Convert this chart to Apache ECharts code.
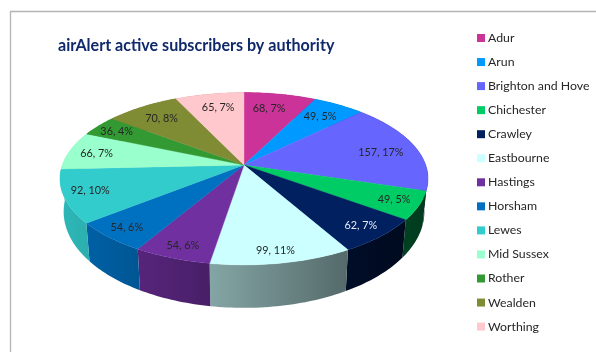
<!DOCTYPE html>
<html>
<head>
<meta charset="utf-8">
<style>html,body{margin:0;padding:0;background:#fff}#chart{width:596px;height:352px}</style>
<script src="https://cdn.jsdelivr.net/npm/echarts@6/dist/echarts.min.js"></script>
</head>
<body>
<div id="chart"></div>
<script>
const chartTitle = 'airAlert active subscribers by authority';
const authorities = ['Adur','Arun','Brighton and Hove','Chichester','Crawley','Eastbourne','Hastings','Horsham','Lewes','Mid Sussex','Rother','Wealden','Worthing'];
const subscribers = [68,49,157,49,62,99,54,54,92,66,36,70,65];
const percents = [7,5,17,5,7,11,6,6,10,7,4,8,7];
const sliceColors = ['#cc3399','#0099ff','#6666ff','#00cc66','#002060','#ccffff','#7030a0','#0070c0','#33cccc','#99ffcc','#339933','#808c34','#ffc8cc'];
const labelColors = ['#262626','#262626','#262626','#262626','#e8ecf4','#262626','#262626','#262626','#262626','#262626','#262626','#262626','#262626'];
// Pixel adjustments of each label away from its default spot on the slice bisector.
const labelNudges = [[-4,0],[0,0],[3,2],[16,3],[13,7],[3,12],[-7,11],[-15,8],[-15,1],[-11,0],[-12,-2],[-1,0],[2,0]];

// Tilted-disc projection: the far rim is foreshortened against the near rim.
const view = {cx:244, cy:165, a:181.7, b:84, k:0.159, wallScale:0.98, wallSlope:1.116, wallY:196.4, labelReach:0.78};
const total = subscribers.reduce((s,v)=>s+v,0);
const startAngles = [];
subscribers.reduce((s,v,i)=>{startAngles[i]=s; return s+v/total*Math.PI*2;},0);

function project(theta, reach){
  const w = 1 + view.k*reach*Math.cos(theta);
  return [view.cx + view.a*reach*Math.sin(theta)/w, view.cy - view.b*reach*Math.cos(theta)/w];
}
function toFloor(p){
  return [view.cx + view.wallScale*(p[0]-view.cx), view.wallY + view.wallSlope*(p[1]-view.cy)];
}
function rim(i){
  const from = startAngles[i], span = subscribers[i]/total*Math.PI*2;
  const n = Math.max(4, Math.ceil(span/0.02)), pts = [];
  for(let j=0;j<=n;j++) pts.push(project(from+span*j/n,1));
  return pts;
}
function shade(hex,f){
  const n = parseInt(hex.slice(1),16);
  return 'rgb('+[(n>>16)&255,(n>>8)&255,n&255].map(c=>Math.round(c*f)).join(',')+')';
}

const topSeries = authorities.map((name,i)=>({
  type:'custom', name, coordinateSystem:'none', z:3, silent:true, animation:false,
  itemStyle:{color:sliceColors[i]},
  data:[[subscribers[i]]],
  renderItem(){
    return {type:'polygon', shape:{points:[[view.cx,view.cy]].concat(rim(i))},
      style:{fill:sliceColors[i], stroke:sliceColors[i], lineWidth:0.4}};
  }
}));
const wallSeries = authorities.map((name,i)=>({
  type:'custom', name, coordinateSystem:'none', z:2, silent:true, animation:false,
  itemStyle:{color:sliceColors[i]},
  data:[[subscribers[i]]],
  renderItem(){
    const top = rim(i), floor = top.map(toFloor).reverse();
    const fill = new echarts.graphic.LinearGradient(60,0,428,0,[
      {offset:0,color:shade(sliceColors[i],0.9)},
      {offset:1,color:shade(sliceColors[i],0.28)}],true);
    return {type:'polygon', shape:{points:top.concat(floor)}, style:{fill}};
  }
}));
const labelSeries = [{
  type:'custom', coordinateSystem:'none', z:4, silent:true, animation:false,
  data:subscribers.map((v,i)=>[v,percents[i]]),
  renderItem(params){
    const i = params.dataIndex;
    const mid = startAngles[i] + subscribers[i]/total*Math.PI;
    const p = project(mid,view.labelReach);
    return {type:'text', x:p[0]+labelNudges[i][0], y:p[1]+labelNudges[i][1],
      style:{text:subscribers[i]+', '+percents[i]+'%', fill:labelColors[i],
        font:'10.8px Lato', textAlign:'center', textVerticalAlign:'middle'}};
  }
}];

const chart = echarts.init(document.getElementById('chart'),null,{renderer:'canvas'});
chart.setOption({
  animation:false,
  backgroundColor:'#ffffff',
  title:{text:chartTitle,left:53,top:33,textStyle:{color:'#10296b',fontFamily:'Lato',fontWeight:'bold',fontSize:16.1}},
  legend:{orient:'vertical',left:472,top:27,icon:'rect',itemWidth:8,itemHeight:8,itemGap:12.05,
    selectedMode:false,data:authorities,textStyle:{color:'#262626',fontFamily:'Lato',fontSize:12.3,padding:[0,0,0,-2]}},
  graphic:[{type:'polyline',silent:true,shape:{points:[[10.5,352],[10.5,11.5],[596,11.5]]},style:{stroke:'#b4b4b4',lineWidth:1.3,fill:null}}],
  series:topSeries.concat(wallSeries,labelSeries)
});
</script>
</body>
</html>
